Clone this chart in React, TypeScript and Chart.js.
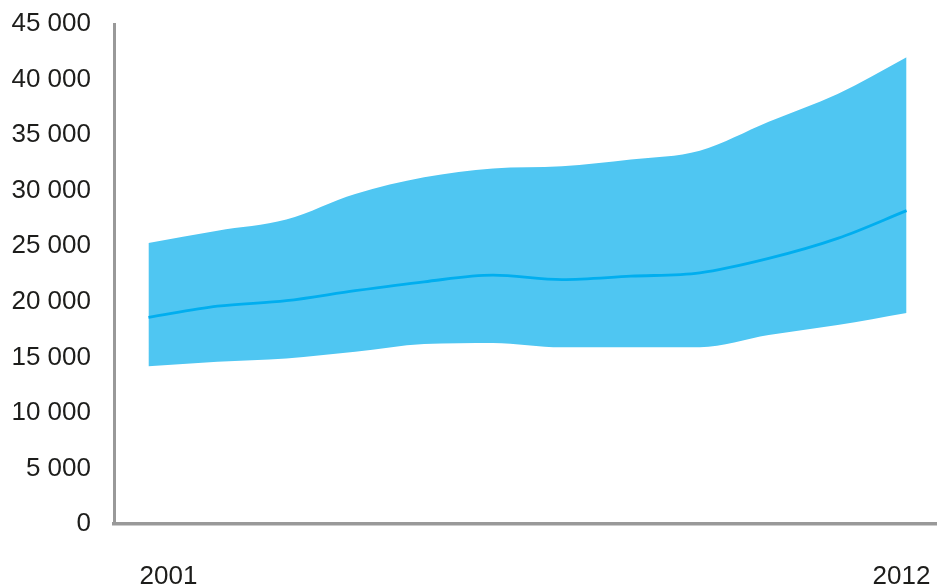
import React, { useEffect, useRef } from 'react';
import { Chart, registerables } from 'chart.js';

Chart.register(...registerables);

// Years on the category axis
const years = ['2001', '2002', '2003', '2004', '2005', '2006', '2007', '2008', '2009', '2010', '2011', '2012'];

// Upper and lower bounds of the shaded range, and the central estimate
const upperBound = [25300, 26400, 27400, 29700, 31200, 32000, 32200, 32800, 33600, 36200, 38700, 42000];
const lowerBound = [14200, 14600, 14900, 15500, 16200, 16300, 15900, 15900, 15900, 17000, 17900, 19000];
const central = [18600, 19600, 20100, 21000, 21800, 22400, 22000, 22300, 22600, 23900, 25700, 28200];

// Value axis range
const yMin = 0;
const yMax = 45000;
const yStep = 5000;

const FONT_FAMILY = "'Liberation Sans', Arial, sans-serif";
const FONT_SIZE = 26;
const TEXT_COLOR = '#1d1d1b';
const AXIS_COLOR = '#999999';
const BAND_COLOR = '#4fc6f2';
const LINE_COLOR = '#00aeef';

const formatThousands = (v: number) => String(v).replace(/\B(?=(\d{3})+(?!\d))/g, ' ');

// Draws only the first and last year under the axis
const edgeYearLabels = {
  id: 'edgeYearLabels',
  afterDraw(chart: any) {
    const xScale = chart.scales.x;
    const ctx = chart.ctx;
    const last = years.length - 1;
    const baseY = chart.chartArea.bottom + 60;
    ctx.save();
    ctx.font = `${FONT_SIZE}px ${FONT_FAMILY}`;
    ctx.fillStyle = TEXT_COLOR;
    ctx.textAlign = 'center';
    ctx.textBaseline = 'alphabetic';
    ctx.fillText(years[0], xScale.getPixelForValue(0) + 20, baseY);
    ctx.fillText(years[last], xScale.getPixelForValue(last) - 5, baseY);
    ctx.restore();
  },
};

export default function App() {
  const canvasRef = useRef<HTMLCanvasElement | null>(null);

  useEffect(() => {
    if (!canvasRef.current) return;
    const chart = new Chart(canvasRef.current, {
      type: 'line',
      data: {
        labels: years,
        datasets: [
          {
            label: 'Central',
            data: central,
            borderColor: LINE_COLOR,
            borderWidth: 2.8,
            pointRadius: 0,
            fill: false,
            cubicInterpolationMode: 'monotone',
          },
          {
            label: 'Upper',
            data: upperBound,
            borderWidth: 0,
            borderColor: 'rgba(0,0,0,0)',
            backgroundColor: BAND_COLOR,
            pointRadius: 0,
            fill: '+1',
            cubicInterpolationMode: 'monotone',
          },
          {
            label: 'Lower',
            data: lowerBound,
            borderWidth: 0,
            borderColor: 'rgba(0,0,0,0)',
            pointRadius: 0,
            fill: false,
            cubicInterpolationMode: 'monotone',
          },
        ],
      },
      options: {
        responsive: false,
        animation: false,
        layout: { padding: { top: 24, right: 0, bottom: 0, left: 0 } },
        plugins: {
          legend: { display: false },
          tooltip: { enabled: false },
        },
        scales: {
          x: {
            offset: true,
            grid: { display: false, drawTicks: false },
            border: { display: true, color: AXIS_COLOR, width: 3.5 },
            ticks: { display: false },
            afterFit: (s: any) => {
              s.height = 60;
            },
          },
          y: {
            min: yMin,
            max: yMax,
            grid: { display: false, drawTicks: false },
            border: { display: true, color: AXIS_COLOR, width: 3 },
            ticks: {
              stepSize: yStep,
              padding: 23,
              color: TEXT_COLOR,
              font: { family: FONT_FAMILY, size: FONT_SIZE },
              callback: (v: any) => formatThousands(Number(v)),
            },
            afterFit: (s: any) => {
              s.width = 114;
              // the tick padding is horizontal here; keep it out of the vertical insets
              s.paddingTop = 0;
              s.paddingBottom = 0;
            },
          },
        },
      },
      plugins: [edgeYearLabels],
    });
    return () => chart.destroy();
  }, []);

  // The plot runs a few pixels past the right edge of the visible frame
  return (
    <div
      style={{
        position: 'absolute',
        left: 0,
        top: 0,
        width: 937,
        height: 584,
        overflow: 'hidden',
        background: '#ffffff',
      }}
    >
      <canvas ref={canvasRef} width={941} height={584} style={{ display: 'block' }} />
    </div>
  );
}
